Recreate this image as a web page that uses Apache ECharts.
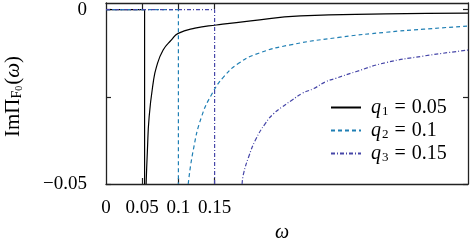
<!DOCTYPE html>
<html>
<head>
<meta charset="utf-8">
<script src="https://cdn.jsdelivr.net/npm/echarts@6/dist/echarts.min.js"></script>
<style>
html,body{margin:0;padding:0;background:#fff;}
#chart{width:471px;height:243px;}
</style>
</head>
<body>
<div id="chart"></div>
<script>
// ---- data ----
const qValues = [0.05, 0.1, 0.15];
const seriesNames = ['q1', 'q2', 'q3'];
const legendLabels = ['0.05', '0.1', '0.15'];
// position of the vertical drop (threshold) for each curve
const dropOmega = [0.0533, 0.1, 0.15];

const omega1 = [0.0554, 0.0572, 0.0596, 0.0651, 0.0697, 0.0789, 0.0904, 0.0997, 0.1229, 0.1524, 0.2, 0.2687, 0.386, 0.5];
const im1    = [-0.05, -0.0403, -0.0307, -0.0211, -0.0164, -0.0116, -0.0087, -0.0068, -0.0053, -0.0044, -0.0032, -0.0018, -0.00124, -0.00100];

const omega2 = [0.1136, 0.1205, 0.132, 0.1468, 0.1625, 0.1832, 0.211, 0.2548, 0.324, 0.3864, 0.439, 0.5];
const im2    = [-0.05, -0.0403, -0.0307, -0.0240, -0.0193, -0.0154, -0.0125, -0.0101, -0.0079, -0.0065, -0.0056, -0.0047];

const omega3 = [0.188, 0.190, 0.1971, 0.2064, 0.2202, 0.2317, 0.2434, 0.2572, 0.2711, 0.2871, 0.3033, 0.3172, 0.3449, 0.3864, 0.439, 0.5];
const im3    = [-0.05, -0.047, -0.0422, -0.0374, -0.0326, -0.0298, -0.0279, -0.0259, -0.0240, -0.0226, -0.0207, -0.0197, -0.0178, -0.0152, -0.0133, -0.0116];

const xTickValues = [0.05, 0.1, 0.15];
const xLabelValues = [0, 0.05, 0.1, 0.15];
const yTickValues = [-0.05, -0.025, 0];
const yLabelValues = [-0.05, 0];

// ---- styling ----
const colors = ['#000000', '#1f7fb4', '#4646a8'];
const dashes = ['solid', [4, 3], [4, 2, 1, 2]];
const FONT = 'Liberation Serif';
const frameColor = '#222';

const omegas = [omega1, omega2, omega3];
const ims = [im1, im2, im3];

const series = [];
for (let i = 0; i < 3; i++) {
  // zero segment + vertical drop
  series.push({
    name: seriesNames[i],
    type: 'line',
    xAxisIndex: 0, yAxisIndex: 0,
    showSymbol: false, symbol: 'none',
    clip: true,
    lineStyle: { color: colors[i], width: 1.2, type: dashes[i] },
    itemStyle: { color: colors[i] },
    data: [[0, 0], [dropOmega[i], 0], [dropOmega[i], -0.05]],
    z: 2 + i
  });
  // curve above threshold
  series.push({
    name: seriesNames[i] + '_curve',
    type: 'line',
    xAxisIndex: 0, yAxisIndex: 0,
    showSymbol: false, symbol: 'none',
    smooth: 0.5,
    clip: true,
    lineStyle: { color: colors[i], width: 1.2, type: dashes[i] },
    itemStyle: { color: colors[i] },
    data: omegas[i].map((w, k) => [w, ims[i][k]]),
    z: 2 + i
  });
}

const axisLineStyle = { onZero: false, lineStyle: { color: frameColor, width: 1.3 } };

const option = {
  animation: false,
  backgroundColor: '#fff',
  grid: { left: 106, right: 3, top: 3, bottom: 59, containLabel: false, outerBoundsMode: 'none' },
  legend: {
    data: seriesNames,
    orient: 'vertical',
    left: 330, top: 97,
    padding: 0,
    itemWidth: 30, itemHeight: 14, itemGap: 2,
    itemStyle: { opacity: 0 },
    formatter: function (name) {
      const i = seriesNames.indexOf(name);
      return '{q|q}{s|' + (i + 1) + '}{e|=}{n|' + legendLabels[i] + '}';
    },
    textStyle: {
      color: '#000',
      fontFamily: FONT,
      fontSize: 20,
      rich: {
        q: { fontFamily: FONT, fontStyle: 'italic', fontSize: 20, lineHeight: 20, color: '#000', padding: [0, 0, 0, 5] },
        s: { fontFamily: FONT, fontSize: 13, lineHeight: 13, padding: [8, 0, 0, 1], color: '#000' },
        e: { fontFamily: FONT, fontSize: 20, lineHeight: 20, color: '#000', padding: [0, 6, 0, 6] },
        n: { fontFamily: FONT, fontSize: 20, lineHeight: 20, color: '#000' }
      }
    }
  },
  xAxis: [
    {
      type: 'value', min: 0, max: 0.5, position: 'bottom',
      axisLine: axisLineStyle,
      axisTick: { show: true, inside: true, length: 6, customValues: xTickValues, lineStyle: { color: frameColor, width: 1.2 } },
      axisLabel: { show: true, customValues: xLabelValues, margin: 15, color: '#000', fontFamily: FONT, fontSize: 19,
        formatter: v => String(v) },
      splitLine: { show: false },
      name: 'ω', nameLocation: 'middle', nameGap: 39,
      nameTextStyle: { fontFamily: FONT, fontStyle: 'italic', fontSize: 20, color: '#000', padding: [0, 10, 0, 0] }
    },
    {
      type: 'value', min: 0, max: 0.5, position: 'top',
      axisLine: axisLineStyle,
      axisTick: { show: true, inside: true, length: 6, customValues: xTickValues, lineStyle: { color: frameColor, width: 1.2 } },
      axisLabel: { show: false },
      splitLine: { show: false }
    }
  ],
  yAxis: [
    {
      type: 'value', min: -0.05, max: 0.0019, position: 'left',
      axisLine: axisLineStyle,
      axisTick: { show: true, inside: true, length: 5, customValues: yTickValues, lineStyle: { color: frameColor, width: 1.2 } },
      axisLabel: { show: true, customValues: yLabelValues, margin: 19, color: '#000', fontFamily: FONT, fontSize: 19,
        formatter: v => (v === 0 ? '0' : '\u22120.05') },
      splitLine: { show: false },
      name: '{a|ImΠ}{b|F}{c|0}{a|(}{w|ω}{a|)}',
      nameLocation: 'middle', nameGap: 82, nameRotate: 90,
      nameTextStyle: {
        color: '#000', fontFamily: FONT, fontSize: 21,
        padding: [0, 6, 0, 0],
        rich: {
          a: { fontFamily: FONT, fontSize: 21, lineHeight: 22, color: '#000' },
          w: { fontFamily: FONT, fontSize: 21, lineHeight: 22, fontStyle: 'italic', color: '#000' },
          b: { fontFamily: FONT, fontSize: 14, lineHeight: 14, padding: [8, 0, 0, 0], color: '#000' },
          c: { fontFamily: FONT, fontSize: 10, lineHeight: 10, padding: [13, 1, 0, 0], color: '#000' }
        }
      }
    },
    {
      type: 'value', min: -0.05, max: 0.0019, position: 'right',
      axisLine: axisLineStyle,
      axisTick: { show: true, inside: true, length: 5, customValues: yTickValues, lineStyle: { color: frameColor, width: 1.2 } },
      axisLabel: { show: false },
      splitLine: { show: false }
    }
  ],
  series: series
};

const chart = echarts.init(document.getElementById('chart'), null, { renderer: 'canvas' });
chart.setOption(option);
</script>
</body>
</html>
